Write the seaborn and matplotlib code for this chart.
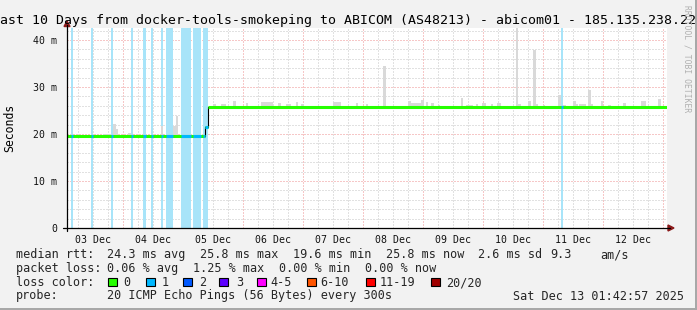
import numpy as np
import matplotlib
matplotlib.use("Agg")
import matplotlib.pyplot as plt
from matplotlib.patches import Rectangle, Polygon
from matplotlib.lines import Line2D
import seaborn as sns

# ---------------- data (time in hours since 03 Dec 00:00, values in ms) -------------
t_start = 1.716
t_end = 241.716

median_t = [1.716, 56.8, 58.0, 241.716]
median_v = [19.6, 21.5, 25.8, 25.8]

loss_start = [3.2, 11.2, 19.2, 27.2, 32.0, 35.2, 39.2, 41.2, 47.2, 52.0, 56.0, 199.2]
loss_end = [4.0, 12.0, 20.0, 28.0, 33.2, 36.0, 40.0, 44.0, 51.2, 55.2, 58.0, 200.0]
loss_level = [1, 1, 1, 1, 1, 1, 1, 1, 1, 1, 1, 1]

smoke_start = [16.0, 20.0, 21.2, 26.0, 39.2, 44.0, 45.2,
               60.0, 63.2, 68.0, 73.2, 79.2, 82.0, 86.0, 89.2, 93.2, 95.2,
               108.0, 117.2, 121.2, 128.0, 138.0, 139.2, 143.2, 145.2, 147.2,
               150.0, 159.2, 161.2, 165.2, 167.6, 171.2, 173.6, 181.2, 182.0,
               186.0, 188.0, 189.2, 192.0, 198.0, 200.0, 204.0, 205.2, 206.4,
               210.0, 211.2, 215.2, 218.0, 224.0, 231.2, 238.0]
smoke_end = [19.2, 21.2, 22.0, 27.2, 40.0, 45.2, 46.0,
             61.2, 65.2, 69.2, 74.0, 82.0, 84.0, 87.2, 91.2, 94.0, 96.4,
             111.2, 118.0, 122.0, 129.2, 139.2, 143.2, 144.4, 146.0, 148.4,
             150.8, 160.0, 164.0, 166.0, 169.2, 172.0, 175.2, 182.0, 183.2,
             187.2, 189.2, 190.0, 192.8, 199.2, 201.2, 205.2, 206.0, 209.2,
             211.2, 212.0, 216.0, 219.2, 225.2, 233.2, 239.2]
smoke_top = [20.1, 22.2, 21.0, 20.3, 21.7, 21.7, 23.9,
             26.4, 26.4, 27.1, 26.6, 26.8, 26.8, 26.6, 26.4, 26.8, 26.4,
             26.8, 26.6, 26.4, 34.5, 27.1, 26.5, 27.3, 26.8, 26.6,
             26.2, 27.6, 26.2, 26.4, 26.6, 26.4, 26.6, 43.0, 26.4,
             27.0, 37.9, 26.4, 26.2, 28.2, 26.2, 27.1, 26.4, 26.4,
             29.4, 26.4, 27.1, 26.2, 26.7, 27.0, 27.4]

day_labels = ["03 Dec", "04 Dec", "05 Dec", "06 Dec", "07 Dec",
              "08 Dec", "09 Dec", "10 Dec", "11 Dec", "12 Dec"]
ytick_vals = [0, 10, 20, 30, 40]
ytick_labels = ["0", "10 m", "20 m", "30 m", "40 m"]

title = "Last 10 Days from docker-tools-smokeping to ABICOM (AS48213) - abicom01 - 185.135.238.22"

legend_rtt = [("median rtt:", 16), ("24.3 ms avg", 107), ("25.8 ms max", 200),
              ("19.6 ms min", 293), ("25.8 ms now", 386), ("2.6 ms sd", 478),
              ("9.3", 550), ("am/s", 600)]
legend_loss = [("packet loss:", 16), ("0.06 % avg", 107), ("1.25 % max", 193),
               ("0.00 % min", 279), ("0.00 % now", 365)]
loss_names = ["0", "1", "2", "3", "4-5", "6-10", "11-19", "20/20"]
loss_colors = ["#26ff00", "#00b8ff", "#0059ff", "#5e00ff",
               "#ff00ff", "#ff5500", "#ff0000", "#a00000"]
probe_text = "20 ICMP Echo Pings (56 Bytes) every 300s"
date_text = "Sat Dec 13 01:42:57 2025"

# ---------------- style -------------
sns.set_style("white")
MONO = ["DejaVu Sans Mono"]
plt.rcParams["font.family"] = MONO

W, H = 697, 310
BG = "#f2f2f2"
fig = plt.figure(figsize=(W / 100, H / 100), dpi=100, facecolor=BG)


def fx(x):
    return x / W


def fy(y):
    return 1 - y / H


ax = fig.add_axes([fx(67), fy(228), 600 / W, 200 / H])
ax.set_facecolor("white")
YMAX = 200 / 4.7
ax.set_xlim(t_start, t_end)
ax.set_ylim(0, YMAX)

# grid
for h in np.arange(6, 242, 6):
    if h % 24 == 0:
        continue
    ax.axvline(h, color="#c4c4c4", lw=0.72, ls=(0, (1, 2)), zorder=0.5)
for v in np.arange(2, 43, 2):
    if v % 10 == 0:
        continue
    ax.axhline(v, color="#c4c4c4", lw=0.72, ls=(0, (1, 2)), zorder=0.5)
for h in np.arange(24, 242, 24):
    ax.axvline(h, color="#ee9090", lw=0.72, ls=(0, (1, 2)), zorder=0.6)
for v in [10, 20, 30, 40]:
    ax.axhline(v, color="#ee9090", lw=0.72, ls=(0, (1, 2)), zorder=0.6)

# loss stripes
ls_ = np.array(loss_start)
le_ = np.array(loss_end)
ax.bar(ls_, YMAX, width=le_ - ls_, bottom=0, align="edge",
       color="#a8e4f9", linewidth=0, zorder=1)


def median_at(t):
    i = np.searchsorted(median_t, t, side="right") - 1
    i = np.clip(i, 0, len(median_v) - 1)
    return np.array(median_v)[i]


# smoke
ss = np.array(smoke_start)
se = np.array(smoke_end)
st = np.array(smoke_top)
sb = median_at(ss) - 0.4
ax.bar(ss, st - sb, width=se - ss, bottom=sb, align="edge",
       color="#d9d9d9", linewidth=0, zorder=2)

# median: thin black step line, then coloured thick segments
sns.lineplot(x=median_t, y=median_v, drawstyle="steps-post", color="black",
             linewidth=0.8, estimator=None, sort=False, ax=ax, zorder=3,
             legend=False)
for i in range(len(median_t) - 1):
    ax.hlines(median_v[i], median_t[i], median_t[i + 1],
              color=loss_colors[0], lw=2.2, zorder=4, capstyle="butt")
for a, b, lv in zip(loss_start, loss_end, loss_level):
    cuts = [a] + [m for m in median_t if a < m < b] + [b]
    for c0, c1 in zip(cuts[:-1], cuts[1:]):
        ax.hlines(median_at(c0), c0, c1, color=loss_colors[lv], lw=2.2,
                  zorder=5, capstyle="butt")

# ticks
for s in ax.spines.values():
    s.set_visible(False)
ax.set_xticks(np.arange(12, 241, 24))
ax.set_xticklabels(day_labels)
ax.set_xticks(np.arange(24, 241, 24), minor=True)
ax.set_yticks(ytick_vals)
ax.set_yticklabels(ytick_labels)
ax.set_yticks(np.arange(2, 43, 2), minor=True)
ax.tick_params(axis="x", which="major", length=0, pad=5, labelsize=7.1,
               labelcolor="#111111")
ax.tick_params(axis="x", which="minor", length=2.5, direction="out",
               width=0.72, color="#aa4444")
ax.tick_params(axis="y", which="major", length=2.5, direction="out",
               width=0.72, pad=4.5, labelsize=7.1, labelcolor="#111111")
ax.tick_params(axis="y", which="minor", length=1.5, direction="out",
               width=0.72, color="#888888")
ax.set_xlabel("")
ax.set_ylabel("")

# axes lines & arrows
fig.add_artist(Line2D([fx(63), fx(670)], [fy(228), fy(228)], color="black",
                      lw=0.9, transform=fig.transFigure))
fig.add_artist(Line2D([fx(67), fx(67)], [fy(231), fy(25)], color="black",
                      lw=0.9, transform=fig.transFigure))
AR = "#8b1a1a"
fig.add_artist(Polygon([(fx(64), fy(26.5)), (fx(70), fy(26.5)), (fx(67), fy(21))],
                       closed=True, color=AR, transform=fig.transFigure))
fig.add_artist(Polygon([(fx(668), fy(225)), (fx(668), fy(231)), (fx(674), fy(228))],
                       closed=True, color=AR, transform=fig.transFigure))

# frame shade
fig.add_artist(Rectangle((fx(694.5), 0), fx(2.5), 1, color="#a8a8a8",
                         transform=fig.transFigure, lw=0))
fig.add_artist(Rectangle((0, 0), 1, 2.5 / H, color="#a8a8a8",
                         transform=fig.transFigure, lw=0))

# texts
fig.text(fx(344.5), fy(24), title, ha="center", va="baseline", fontsize=9.55,
         color="black")
fig.text(fx(10), fy(127.5), "Seconds", ha="center", va="center",
         rotation=90, fontsize=8.3, color="black")
fig.text(fx(687), fy(5), "RRDTOOL / TOBI OETIKER", ha="center", va="top",
         rotation=270, fontsize=5.8, color="#b0b0b0")

FS = 8.5
for txt, x in legend_rtt:
    fig.text(fx(x), fy(258), txt, ha="left", va="baseline", fontsize=FS)
for txt, x in legend_loss:
    fig.text(fx(x), fy(272), txt, ha="left", va="baseline", fontsize=FS)
fig.text(fx(16), fy(286), "loss color:", ha="left", va="baseline", fontsize=FS)
box_x = [108, 146, 183, 219, 257, 307, 366, 431]
lab_x = [123, 162, 199, 236, 270, 320, 380, 446]
for name, col, bx, lx in zip(loss_names, loss_colors, box_x, lab_x):
    fig.add_artist(Rectangle((fx(bx), fy(286)), 8.5 / W, 8.5 / H,
                             facecolor=col, edgecolor="black", lw=0.8,
                             transform=fig.transFigure))
    fig.text(fx(lx), fy(286), name, ha="left", va="baseline", fontsize=FS)
fig.text(fx(16), fy(299.5), "probe:", ha="left", va="baseline", fontsize=FS)
fig.text(fx(107), fy(299.5), probe_text, ha="left", va="baseline", fontsize=FS)
fig.text(fx(513), fy(299.5), date_text, ha="left", va="baseline", fontsize=FS)

fig.savefig("out.png", dpi=100, facecolor=BG)
